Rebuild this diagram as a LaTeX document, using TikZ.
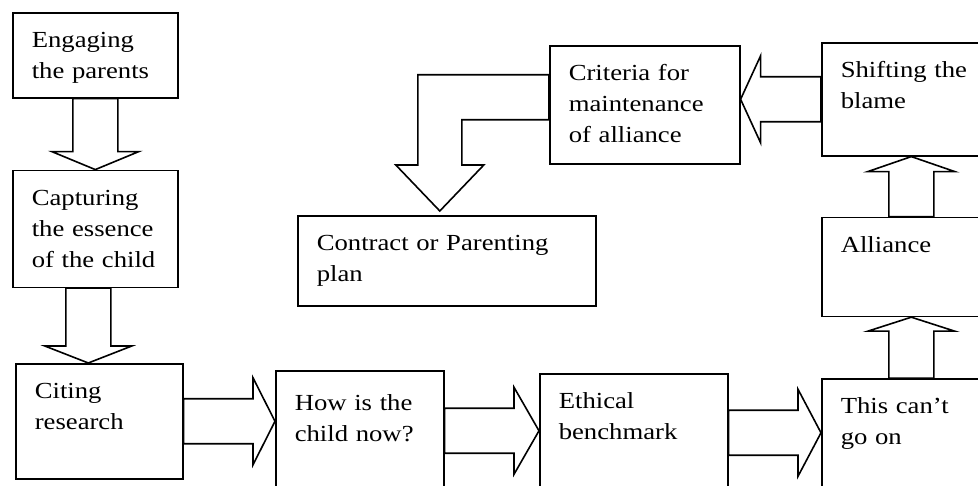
\documentclass[tikz,border=0pt]{standalone}
\usepackage{fontspec}
\setmainfont{Liberation Serif}[FakeStretch=1.16]
\usetikzlibrary{positioning,calc}

\begin{document}
\begin{tikzpicture}[
    x=1pt, y=1pt,
    etapa/.style 2 args={
        draw,
        line width=1.6pt,
        anchor=north west,
        align=left,
        font=\fontsize{23pt}{31pt}\selectfont,
        inner xsep=19pt,
        inner ysep=20pt,
        text height=15pt,
        text width=#1,
        text depth=#2
    },
    contorno/.style={draw, line width=1.6pt, line join=miter},
    hueca/.style={
        contorno,
        to path={
            let \p1=($(\tikztotarget)!#1!(\tikztostart)$) in
            ($(\tikztostart)!22.5pt!90:(\tikztotarget)$) -- ($(\p1)!22.5pt!90:(\tikztotarget)$)
            -- ($(\p1)!43.5pt!90:(\tikztotarget)$) -- (\tikztotarget)
            -- ($(\p1)!43.5pt!-90:(\tikztotarget)$) -- ($(\p1)!22.5pt!-90:(\tikztotarget)$)
            -- ($(\tikztostart)!22.5pt!-90:(\tikztotarget)$) -- cycle
        }
    },
    hueca/.default=20pt
]
\useasboundingbox (0,0) rectangle (978,486);
\clip (0,0) rectangle (978,486);

% left column
\node[etapa={127pt}{30pt}] (engage) at (12,474) {Engaging\\the parents};
\node[etapa={127pt}{62pt}, below=71pt of engage] (capture) {Capturing\\the essence\\of the child};
\node[etapa={129pt}{60pt}] (cite) at (15,123) {Citing\\research};

% bottom row
\node[etapa={130pt}{60pt}, text height=20pt] (now) at (275,116) {How is the\\child now?};
\node[etapa={150pt}{63pt}] (ethic) at (539,113) {Ethical\\benchmark};

% right column
\node[etapa={141pt}{58pt}] (shift) at (821,444) {Shifting the\\blame};
\node[etapa={141pt}{44pt}, below=60pt of shift] (alliance) {Alliance};
\node[etapa={141pt}{60pt}, below=61pt of alliance] (cant) {This can't\\go on};

% top middle
\node[etapa={152pt}{63pt}] (criteria) at (549,441) {Criteria for\\maintenance\\of alliance};
\node[etapa={260pt}{35pt}] (contract) at (297,271) {Contract or Parenting\\plan};

\draw[hueca=18pt] (engage.south) to (capture.north);
\draw[hueca=17pt] ([xshift=-7pt]capture.south) to ([xshift=-7pt]capture.south |- cite.north);
\draw[hueca=22pt] (cite.east) to (cite.east -| now.west);
\draw[hueca=25pt] (now.east) to (now.east -| ethic.west);
\draw[hueca=23pt] (ethic.east) to (ethic.east -| cant.west);
\draw[hueca=14pt] (cant.north) to (cant.north |- alliance.south);
\draw[hueca=15pt] (alliance.north) to (alliance.north |- shift.south);
\draw[hueca] (shift.west) to (shift.west -| criteria.east);

% bent arrow down to the plan
\coordinate (punta) at ([shift={(-7pt,4pt)}]contract.north);
\draw[contorno] ([yshift=30pt]criteria.west) -| ([shift={(-22pt,46pt)}]punta)
    -- ++(-22,0) -- (punta) -- ++(44,46) -- ++(-22,0)
    |- ([yshift=-15pt]criteria.west) -- cycle;

\end{tikzpicture}
\end{document}
